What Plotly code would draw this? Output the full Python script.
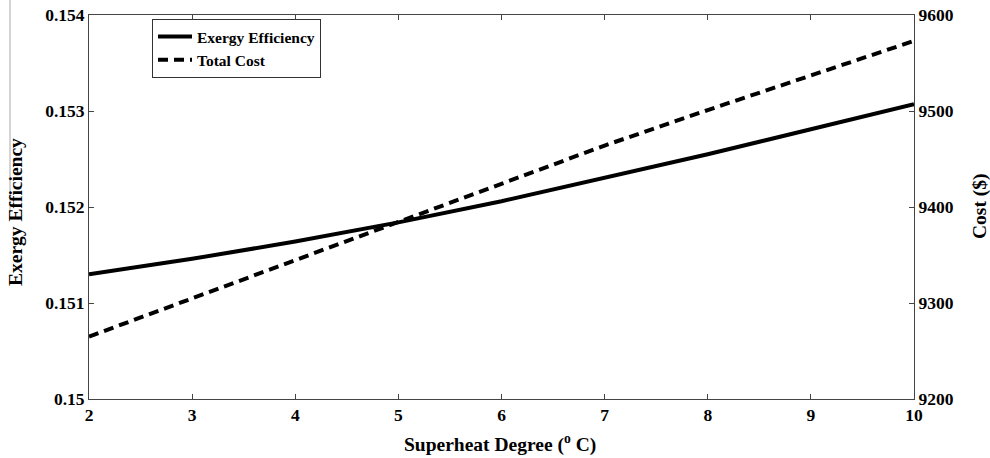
import plotly.graph_objects as go

superheat = [2, 3, 4, 5, 6, 7, 8, 9, 10]
exergy_eff = [0.15130, 0.15146, 0.15164, 0.15184, 0.15206, 0.15230, 0.15255, 0.15281, 0.15307]
total_cost = [9265, 9305, 9345, 9385, 9425, 9464, 9501, 9537, 9573]

x_ticks = [2, 3, 4, 5, 6, 7, 8, 9, 10]
y1_ticks = [0.150, 0.151, 0.152, 0.153, 0.154]
y1_labels = ["0.15", "0.151", "0.152", "0.153", "0.154"]
y2_ticks = [9200, 9300, 9400, 9500, 9600]

font_family = "Liberation Serif"
axis_color = "#444444"
tick_font = dict(family=font_family, size=17.5, weight="bold", color="black")
title_font = dict(family=font_family, size=19.5, weight="bold", color="black")

L, R, T, B = 89, 76, 15, 59
W, H = 990, 458
pw, ph = W - L - R, H - T - B

fig = go.Figure()
fig.add_trace(go.Scatter(x=superheat, y=exergy_eff, mode="lines", name="Exergy Efficiency",
                         line=dict(color="black", width=4), yaxis="y"))
fig.add_trace(go.Scatter(x=superheat, y=total_cost, mode="lines", name="Total Cost",
                         line=dict(color="black", width=4, dash="10px,6px"), yaxis="y2"))

axis_common = dict(ticks="inside", ticklen=5, showline=True, linecolor=axis_color, linewidth=1,
                   tickcolor=axis_color, showgrid=False, zeroline=False,
                   tickfont=tick_font, automargin=False)

fig.update_layout(
    width=W, height=H,
    margin=dict(l=L, r=R, t=T, b=B, autoexpand=False),
    paper_bgcolor="white", plot_bgcolor="white",
    font=dict(family=font_family, size=16, color="black"),
    showlegend=True,
    legend=dict(x=(152 - L) / pw, y=1 - (19 - T) / ph, xanchor="left", yanchor="top",
                bordercolor="#333333", borderwidth=1, bgcolor="white",
                font=dict(family=font_family, size=15.5, color="black", weight="bold"),
                tracegroupgap=0, itemwidth=34),
    xaxis=dict(range=[2, 10], tickvals=x_ticks, mirror="ticks", **axis_common),
    yaxis=dict(range=[0.150, 0.154], tickvals=y1_ticks, ticktext=y1_labels, **axis_common),
    yaxis2=dict(range=[9200, 9600], tickvals=y2_ticks, overlaying="y", side="right",
                **axis_common),
    annotations=[
        dict(text="Superheat Degree (<sup>o</sup> C)", xref="paper", yref="paper",
             x=(500 - L) / pw, y=-(443 - (T + ph)) / ph, xanchor="center", yanchor="middle",
             showarrow=False, font=title_font),
        dict(text="Exergy Efficiency", xref="paper", yref="paper",
             x=(15 - L) / pw, y=1 - (212 - T) / ph, xanchor="center", yanchor="middle",
             textangle=-90, showarrow=False, font=title_font),
        dict(text="Cost ($)", xref="paper", yref="paper",
             x=(980 - L) / pw, y=1 - (206 - T) / ph, xanchor="center", yanchor="middle",
             textangle=-90, showarrow=False, font=title_font),
    ],
    shapes=[dict(type="line", xref="paper", yref="paper",
                 x0=(10 - L) / pw, x1=(10 - L) / pw,
                 y0=1 + T / ph, y1=1 - (212 - T) / ph,
                 line=dict(color="#aaaaaa", width=1))],
)

fig.write_html("out.html")
